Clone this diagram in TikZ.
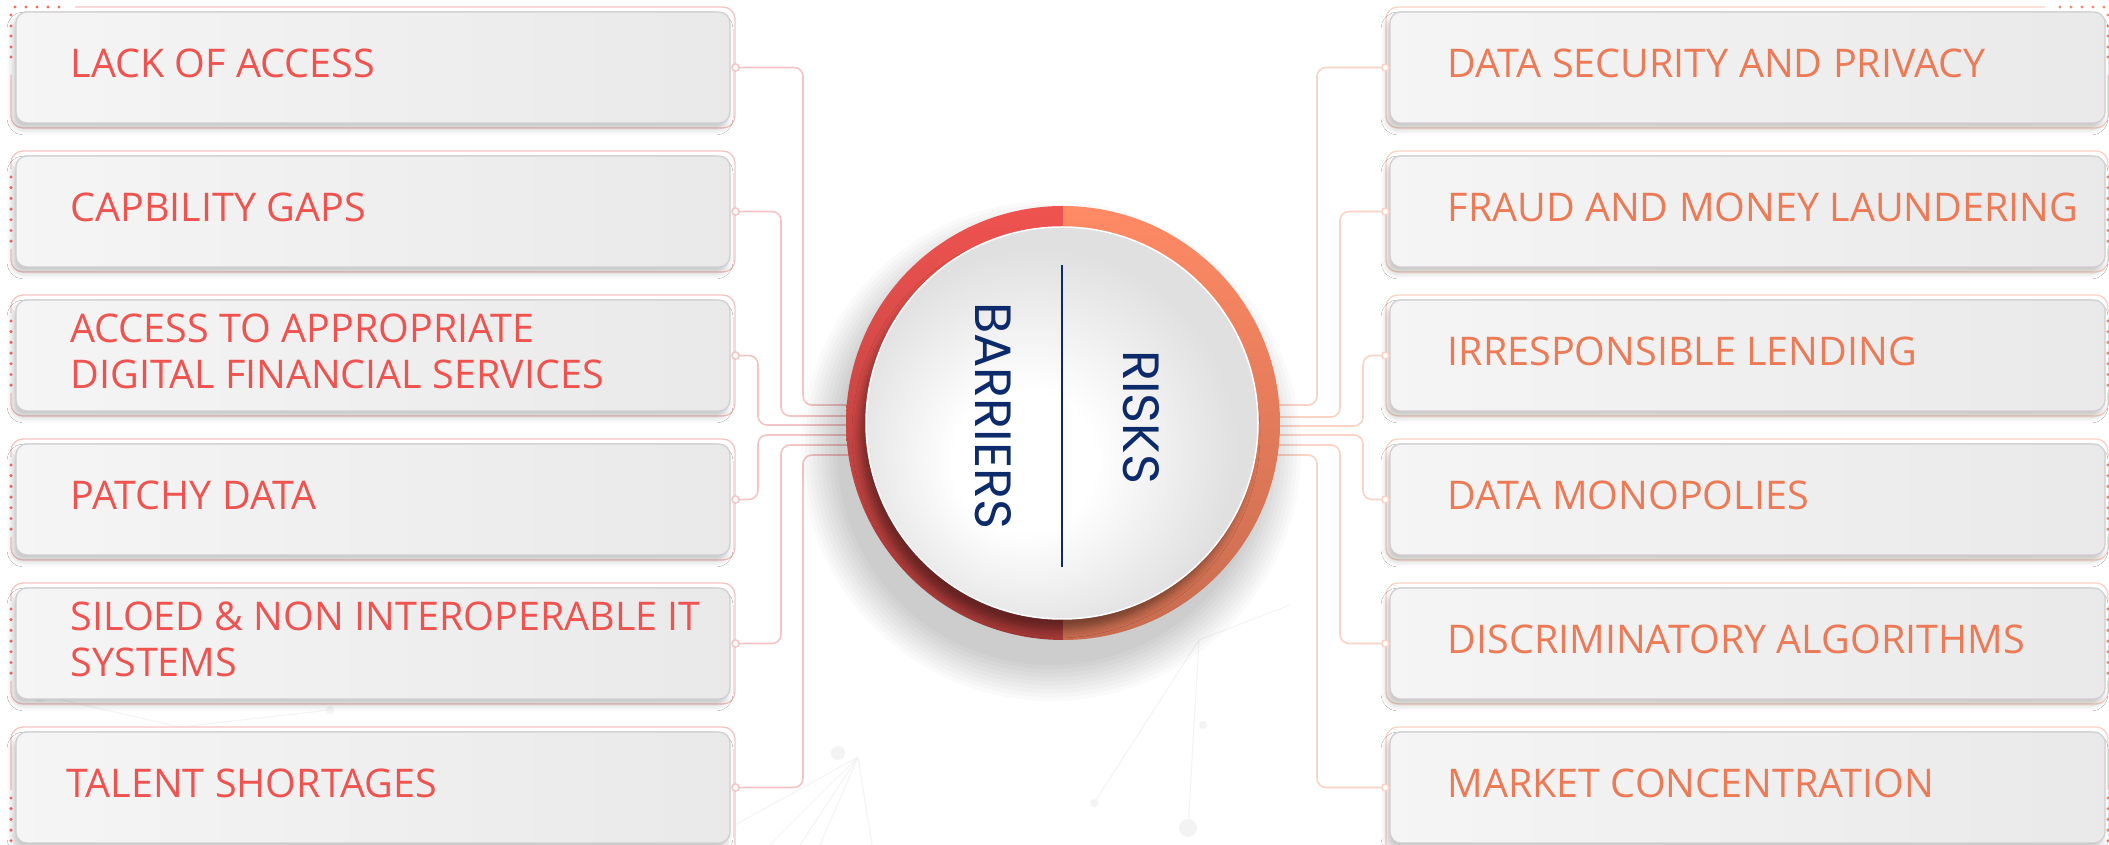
\documentclass[tikz,border=0pt]{standalone}
\usepackage{fontspec}
\setmainfont{Open Sans}
\newfontfamily\hubfont{Poppins}
\usetikzlibrary{positioning,shadows.blur}

\definecolor{barred}{HTML}{EF5350}
\definecolor{riskorange}{HTML}{EC7A56}
\definecolor{ringred}{HTML}{EF5350}
\definecolor{ringorange}{HTML}{FF8A65}
\definecolor{barline}{HTML}{F5C4C4}
\definecolor{riskline}{HTML}{F9D3C5}
\definecolor{navy}{HTML}{0D2B6B}
\definecolor{boxedge}{HTML}{CFCFCF}
\definecolor{meshgray}{HTML}{F3F3F3}

\pgfdeclareradialshading{discshade}{\pgfpoint{-6bp}{-6bp}}{color(0bp)=(white); color(9bp)=(white); color(25bp)=(gray!24); color(50bp)=(gray!24)}

\begin{document}
\begin{tikzpicture}[
                        x=1pt, y=1pt,
                        box/.style={rectangle, rounded corners=11pt, draw=boxedge, line width=1.2pt,
                            left color=gray!8, right color=gray!17,
                            minimum width=714pt, minimum height=111pt,
                            blur shadow={shadow xshift=-3pt, shadow yshift=-6pt, shadow blur radius=6pt, shadow opacity=22}},
                        bartext/.style={text=barred, font=\fontsize{39.5}{46}\selectfont, align=left, inner sep=0pt, yshift=4pt},
                        risktext/.style={bartext, text=riskorange},
                        barframe/.style={draw=barline, line width=1.3pt, rounded corners=12pt},
                        riskframe/.style={barframe, draw=riskline},
                        bardot/.style={fill=barred!85},
                        riskdot/.style={fill=riskorange!85},
                        barconn/.style={draw=barline, line width=1.6pt, rounded corners=9pt},
                        riskconn/.style={barconn, draw=riskline},
                        mesh/.style={draw=meshgray, line width=1pt},
                        ring/.style={circle, minimum size=434pt, inner sep=0pt,
                            path picture={
                                \shade[top color=ringred, middle color=ringred, bottom color=ringred!68!black]
                                    (path picture bounding box.north west) rectangle (path picture bounding box.south);
                                \shade[top color=ringorange, middle color=ringorange, bottom color=ringorange!78!black]
                                    (path picture bounding box.north) rectangle (path picture bounding box.south east);
                            }},
                        disc/.style={circle, minimum size=392pt, inner sep=0pt, shading=discshade, draw=white, line width=1.5pt,
                            blur shadow={shadow xshift=-6pt, shadow yshift=-11pt, shadow blur radius=8pt, shadow opacity=40}},
                        hubtext/.style={text=navy, font=\hubfont\fontsize{51}{51}\selectfont, rotate=-90}
                    ]
                    \useasboundingbox (0,0) rectangle (2109,845);
                    \fill[white] (0,0) rectangle (2109,845);

                    % faint mesh in the background
                    \draw[mesh] (858,88) -- (770,0) (858,88) -- (800,0) (858,88) -- (820,0) (858,88) -- (872,0) (858,88) -- (735,20);
                    \fill[meshgray] (838,92) circle (7);
                    \draw[mesh] (1199,205) -- (1188,17) (1199,205) -- (1094,42) (1199,205) -- (1290,240);
                    \fill[meshgray] (1188,17) circle (9) (1094,42) circle (4) (1203,120) circle (4);
                    \draw[mesh] (40,150) -- (180,118) (180,118) -- (330,135);
                    \fill[meshgray] (40,150) circle (7) (330,135) circle (4);

                    % Frames and dotted edges
                    \draw[barframe] (75,838) -- (735,838) -- (735,717) -- (11,717) -- (11,770);
                    \foreach \x in {15,26,37,48,59} \fill[bardot] (\x,838) circle (1.7);
                    \foreach \y in {830,819,809,798,788} \fill[bardot] (11,\y) circle (1.7);
                    \foreach \T in {694,550,406,262} {
                        \draw[barframe] (11,\T-18) -- (11,\T) -- (735,\T) -- (735,\T-121) -- (11,\T-121) -- (11,\T-98);
                        \foreach \i in {0,...,6} \fill[bardot] (11,\T-26-\i*10.7) circle (1.7);
                    }
                    \draw[barframe] (11,55) -- (11,118) -- (735,118) -- (735,-10);
                    \foreach \y in {47,36.3,25.6,14.9,4.2} \fill[bardot] (11,\y) circle (1.7);

                    \draw[riskframe] (2045,838) -- (1386,838) -- (1386,717) -- (2108,717) -- (2108,770);
                    \foreach \x in {2060,2071,2082,2093,2104} \fill[riskdot] (\x,838) circle (1.7);
                    \foreach \y in {830,819,809,798,788} \fill[riskdot] (2108,\y) circle (1.7);
                    \foreach \T in {694,550,406,262} {
                        \draw[riskframe] (2108,\T-18) -- (2108,\T) -- (1386,\T) -- (1386,\T-121) -- (2108,\T-121) -- (2108,\T-98);
                        \foreach \i in {0,...,6} \fill[riskdot] (2108,\T-26-\i*10.7) circle (1.7);
                    }
                    \draw[riskframe] (2108,55) -- (2108,118) -- (1386,118) -- (1386,-10);
                    \foreach \y in {47,36.3,25.6,14.9,4.2} \fill[riskdot] (2108,\y) circle (1.7);

                    % Barrier blocks
                    \node[box] (access) at (373,777.5) {};
                    \node[box] (gaps) at (373,633.5) {};
                    \node[box] (services) at (373,489.5) {};
                    \node[box] (data) at (373,345.5) {};
                    \node[box] (silos) at (373,201.5) {};
                    \node[box] (talent) at (373,57.5) {};

                    \node[bartext, right=55pt of access.west] (accesstxt) {LACK OF ACCESS};
                    \node[bartext, right=55pt of gaps.west] (gapstxt) {CAPBILITY GAPS};
                    \node[bartext, right=55pt of services.west] (servicestxt) {ACCESS TO APPROPRIATE\\DIGITAL FINANCIAL SERVICES};
                    \node[bartext, right=55pt of data.west] (datatxt) {PATCHY DATA};
                    \node[bartext, right=55pt of silos.west] (silostxt) {SILOED \& NON INTEROPERABLE IT\\SYSTEMS};
                    \node[bartext, right=51pt of talent.west] (talenttxt) {TALENT SHORTAGES};

                    % Risk blocks
                    \node[box, minimum width=715pt] (privacy) at (1747.5,777.5) {};
                    \node[box, minimum width=715pt] (fraud) at (1747.5,633.5) {};
                    \node[box, minimum width=715pt] (lending) at (1747.5,489.5) {};
                    \node[box, minimum width=715pt] (monopoly) at (1747.5,345.5) {};
                    \node[box, minimum width=715pt] (algorithms) at (1747.5,201.5) {};
                    \node[box, minimum width=715pt] (market) at (1747.5,57.5) {};

                    \node[risktext, right=58pt of privacy.west] (privacytxt) {DATA SECURITY AND PRIVACY};
                    \node[risktext, right=58pt of fraud.west] (fraudtxt) {FRAUD AND MONEY LAUNDERING};
                    \node[risktext, right=58pt of lending.west] (lendingtxt) {IRRESPONSIBLE LENDING};
                    \node[risktext, right=58pt of monopoly.west] (monopolytxt) {DATA MONOPOLIES};
                    \node[risktext, right=58pt of algorithms.west] (algorithmstxt) {DISCRIMINATORY ALGORITHMS};
                    \node[risktext, right=58pt of market.west] (markettxt) {MARKET CONCENTRATION};

                    % Connections
                    \coordinate (hub) at (1063,422);
                    \draw[barconn] ([xshift=5pt]access.east) -| ([xshift=-260pt,yshift=18pt]hub) -- ([yshift=18pt]hub);
                    \draw[barconn] ([xshift=5pt]gaps.east) -| ([xshift=-282pt,yshift=7pt]hub) -- ([yshift=7pt]hub);
                    \draw[barconn] ([xshift=5pt]services.east) -| ([xshift=-305pt,yshift=-2pt]hub) -- ([yshift=-2pt]hub);
                    \draw[barconn] ([xshift=5pt]data.east) -| ([xshift=-305pt,yshift=-12pt]hub) -- ([yshift=-12pt]hub);
                    \draw[barconn] ([xshift=5pt]silos.east) -| ([xshift=-282pt,yshift=-22pt]hub) -- ([yshift=-22pt]hub);
                    \draw[barconn] ([xshift=5pt]talent.east) -| ([xshift=-260pt,yshift=-32pt]hub) -- ([yshift=-32pt]hub);

                    \draw[riskconn] ([xshift=-4pt]privacy.west) -| ([xshift=254pt,yshift=18pt]hub) -- ([yshift=18pt]hub);
                    \draw[riskconn] ([xshift=-4pt]fraud.west) -| ([xshift=277pt,yshift=6pt]hub) -- ([yshift=6pt]hub);
                    \draw[riskconn] ([xshift=-4pt]lending.west) -| ([xshift=300pt,yshift=-3pt]hub) -- ([yshift=-3pt]hub);
                    \draw[riskconn] ([xshift=-4pt]monopoly.west) -| ([xshift=300pt,yshift=-12pt]hub) -- ([yshift=-12pt]hub);
                    \draw[riskconn] ([xshift=-4pt]algorithms.west) -| ([xshift=277pt,yshift=-22pt]hub) -- ([yshift=-22pt]hub);
                    \draw[riskconn] ([xshift=-4pt]market.west) -| ([xshift=254pt,yshift=-32pt]hub) -- ([yshift=-32pt]hub);

                    \foreach \n in {access,gaps,services,data,silos,talent}
                        \draw[barconn, fill=white] ([xshift=5pt]\n.east) circle (3.5);
                    \foreach \n in {privacy,fraud,lending,monopoly,algorithms,market}
                        \draw[riskconn, fill=white] ([xshift=-4pt]\n.west) circle (3.5);

                    % Hub with its soft shadow
                    \foreach \r in {214,218,...,250}
                        \fill[black, opacity=0.02] ([shift={(-12,-28)}]hub) circle (\r);
                    \node[ring] (ring) at (hub) {};
                    \node[disc] (disc) at (1062,422) {};
                    \draw[navy, line width=2.5pt] ([yshift=158pt]disc.center) -- ([yshift=-144pt]disc.center);
                    \node[hubtext] (barriers) at (993,429) {BARRIERS};
                    \node[hubtext] (risks) at (1141,428) {RISKS};
                \end{tikzpicture}
\end{document}
